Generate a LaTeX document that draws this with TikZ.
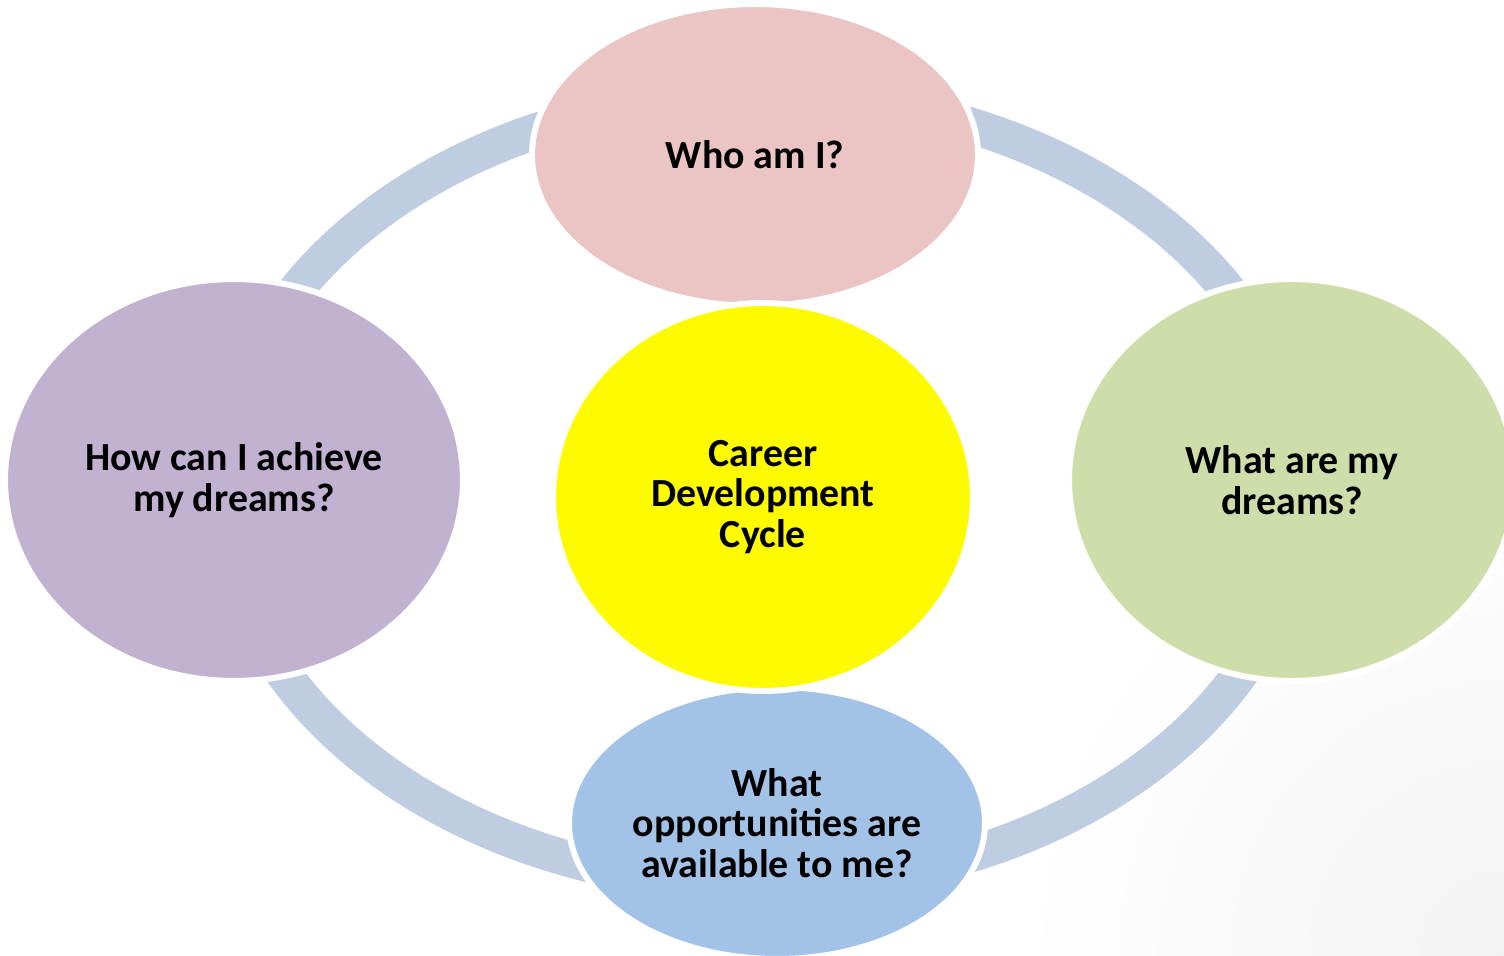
\documentclass[tikz,border=0pt]{standalone}
\usepackage{fontspec}
\setmainfont{Carlito}
\usetikzlibrary{shapes.geometric,backgrounds}
\definecolor{ringblue}{HTML}{BFCDE2}
\definecolor{pinkfill}{HTML}{EAC5C4}
\definecolor{lilacfill}{HTML}{C1B2D2}
\definecolor{greenfill}{HTML}{CFDDAB}
\definecolor{bluefill}{HTML}{A2C2E8}
\definecolor{yellowfill}{HTML}{FEFB00}
\begin{document}
\begin{tikzpicture}[x=0.02cm, y=-0.02cm,
  bubble/.style={ellipse, draw=white, line width=0.12cm, inner sep=0pt, align=center,
    font=\fontsize{22.7}{23}\selectfont\bfseries},
  ring/.style={draw=ringblue, line width=0.72cm}]
\useasboundingbox (0,0) rectangle (1504,956);
\node at (755,155) (who) [bubble, fill=pinkfill, minimum width=8.92cm, minimum height=6.04cm] {Who am I?};
\node at (234,480) (how) [bubble, fill=lilacfill, minimum width=9.16cm, minimum height=8.04cm] {How can I achieve\\my dreams?};
\node at (1292,480) (what) [bubble, fill=greenfill, minimum width=8.92cm, minimum height=8.04cm] {What are my\\dreams?};
\node at (777,823) (avail) [bubble, fill=bluefill, minimum width=8.32cm, minimum height=5.44cm] {What\\opportunities are\\available to me?};
\node at (763,497) (cycle) [bubble, fill=yellowfill, minimum width=8.4cm, minimum height=7.76cm] {Career\\Development\\Cycle};
\coordinate (hub) at (762,490);
\begin{pgfonlayer}{background}
\clip (0,0) rectangle (1504,956);
\shade[inner color=black!5, outer color=white] (1504,956) circle [radius=480];
\draw[ring] (hub) ellipse [x radius=540, y radius=395];
\end{pgfonlayer}
\end{tikzpicture}
\end{document}
